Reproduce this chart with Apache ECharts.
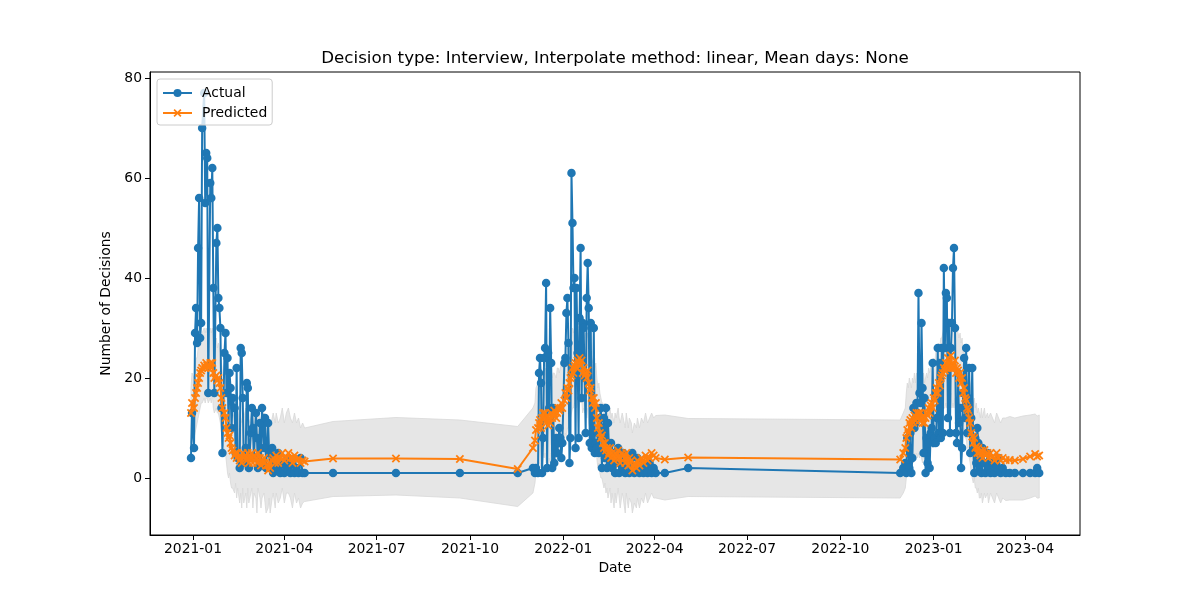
<!DOCTYPE html>
<html><head><meta charset="utf-8">
<script src="https://cdn.jsdelivr.net/npm/echarts@6/dist/echarts.min.js"></script>
<style>html,body{margin:0;padding:0;background:#fff}#c{width:1200px;height:600px}</style>
</head><body><div id="c"></div>
<script>
const dates = [
'2020-12-30','2020-12-31','2021-01-02','2021-01-03','2021-01-04','2021-01-05','2021-01-06','2021-01-07','2021-01-08','2021-01-09','2021-01-10','2021-01-12','2021-01-13','2021-01-14','2021-01-15','2021-01-16','2021-01-18','2021-01-19','2021-01-20','2021-01-21','2021-01-22','2021-01-24','2021-01-25','2021-01-26','2021-01-27','2021-01-28','2021-01-29','2021-01-30',
'2021-02-01','2021-02-02','2021-02-03','2021-02-04','2021-02-05','2021-02-06','2021-02-07','2021-02-08','2021-02-09','2021-02-11','2021-02-12','2021-02-13','2021-02-14','2021-02-16','2021-02-17','2021-02-18','2021-02-19','2021-02-20','2021-02-22','2021-02-23','2021-02-24','2021-02-25','2021-02-27','2021-02-28',
'2021-03-01','2021-03-02','2021-03-04','2021-03-05','2021-03-06','2021-03-08','2021-03-09','2021-03-10','2021-03-12','2021-03-13','2021-03-14','2021-03-16','2021-03-17','2021-03-18','2021-03-20','2021-03-21','2021-03-23','2021-03-24','2021-03-26','2021-03-28','2021-03-30',
'2021-04-01','2021-04-03','2021-04-05','2021-04-07','2021-04-09','2021-04-11','2021-04-13','2021-04-15','2021-04-17','2021-04-19','2021-04-21',
'2021-05-19','2021-07-20','2021-09-21','2021-11-17',
'2021-12-02','2021-12-04','2021-12-05','2021-12-07','2021-12-08','2021-12-09','2021-12-10','2021-12-11','2021-12-12','2021-12-13','2021-12-14','2021-12-15','2021-12-16','2021-12-17','2021-12-18','2021-12-19','2021-12-20','2021-12-21','2021-12-22','2021-12-23','2021-12-25','2021-12-26','2021-12-27','2021-12-28','2021-12-29','2021-12-30','2021-12-31',
'2022-01-02','2022-01-03','2022-01-04','2022-01-05','2022-01-06','2022-01-07','2022-01-08','2022-01-09','2022-01-10','2022-01-11','2022-01-12','2022-01-13','2022-01-14','2022-01-15','2022-01-16','2022-01-17','2022-01-18','2022-01-19','2022-01-20','2022-01-21','2022-01-22','2022-01-23','2022-01-24','2022-01-25','2022-01-26','2022-01-27','2022-01-28','2022-01-29','2022-01-30','2022-01-31',
'2022-02-01','2022-02-02','2022-02-03','2022-02-04','2022-02-05','2022-02-06','2022-02-07','2022-02-08','2022-02-09','2022-02-10','2022-02-11','2022-02-12','2022-02-13','2022-02-14','2022-02-15','2022-02-16','2022-02-17','2022-02-18','2022-02-20','2022-02-21','2022-02-22','2022-02-24','2022-02-25','2022-02-26','2022-02-28',
'2022-03-01','2022-03-03','2022-03-04','2022-03-06','2022-03-07','2022-03-09','2022-03-10','2022-03-12','2022-03-14','2022-03-15','2022-03-17','2022-03-19','2022-03-21','2022-03-23','2022-03-25','2022-03-27','2022-03-29','2022-03-31',
'2022-04-02','2022-04-11','2022-05-04',
'2022-11-29','2022-12-02','2022-12-04','2022-12-05','2022-12-06','2022-12-07','2022-12-08','2022-12-09','2022-12-10','2022-12-11','2022-12-12','2022-12-13','2022-12-14','2022-12-15','2022-12-16','2022-12-17','2022-12-18','2022-12-19','2022-12-20','2022-12-21','2022-12-22','2022-12-23','2022-12-24','2022-12-25','2022-12-26','2022-12-27','2022-12-28','2022-12-29','2022-12-30','2022-12-31',
'2023-01-01','2023-01-02','2023-01-03','2023-01-04','2023-01-05','2023-01-06','2023-01-07','2023-01-08','2023-01-09','2023-01-10','2023-01-11','2023-01-12','2023-01-13','2023-01-14','2023-01-15','2023-01-16','2023-01-17','2023-01-18','2023-01-19','2023-01-20','2023-01-21','2023-01-22','2023-01-23','2023-01-24','2023-01-25','2023-01-26','2023-01-27','2023-01-28','2023-01-29','2023-01-30','2023-01-31',
'2023-02-01','2023-02-02','2023-02-03','2023-02-04','2023-02-05','2023-02-06','2023-02-07','2023-02-08','2023-02-09','2023-02-10','2023-02-11','2023-02-12','2023-02-13','2023-02-14','2023-02-15','2023-02-16','2023-02-17','2023-02-18','2023-02-20','2023-02-21','2023-02-23','2023-02-24','2023-02-26','2023-02-28',
'2023-03-02','2023-03-04','2023-03-06','2023-03-08','2023-03-10','2023-03-13','2023-03-17','2023-03-22','2023-03-30',
'2023-04-06','2023-04-11','2023-04-13','2023-04-15'
];
const actual = [
4,13,6,29,34,27,46,56,28,31,70,77,55,65,64,17,59,56,62,38,17,47,50,36,34,30,14,5,
25,29,17,24,10,21,18,10,16,14,5,22,4,2,26,25,16,3,6,19,18,2,9,14,
10,4,13,8,2,11,3,14,6,12,2,11,5,2,6,1,4,2,5,1,3,
1,2,4,1,3,1,2,1,4,1,1,
1,1,1,1,
2,1,2,1,21,24,19,1,8,24,26,39,2,25,14,34,23,2,14,3,8,5,7,10,8,4,7,
23,24,33,36,27,3,8,61,51,38,40,6,38,25,8,32,46,16,31,30,20,9,36,43,34,7,31,6,7,30,
5,7,6,9,5,12,14,2,10,12,4,14,2,11,6,3,7,2,5,1,3,6,1,4,2,
5,1,3,4,1,2,5,1,2,4,1,3,1,2,1,3,1,2,
1,1,2,
1,2,3,1,8,6,2,9,1,4,14,10,11,15,13,37,17,15,31,18,5,16,1,8,3,7,2,9,10,23,
7,8,7,12,26,9,23,8,26,9,42,26,37,36,12,31,9,26,31,42,46,30,9,7,21,11,14,2,6,17,24,
12,26,9,16,22,5,12,22,6,1,8,3,10,7,2,5,1,6,3,1,5,2,1,3,
1,2,4,1,2,1,1,1,1,
1,1,2,1
];
const predicted = [
13,15,14,16,17,18,19,20,21,21.5,22,22.5,22,23,22.5,22,23,22,23,21,20,20.5,19.5,20,19,18,16,14,
13,12,10,9,8,8.5,7,6,5.5,4.5,5,4,5,3.5,4,3,5,4,4.5,3.5,5,3,4,5,
3,4.5,4,3,5,4,2.5,3.5,4,3,2.5,1.5,3,2,3.5,4,3,4.5,3,4,5,
3.5,4,5,4,3,4.5,3.5,4,3,3.5,3.3,
3.9,3.9,3.8,1.8,
6,7.5,9.6,10,11,11.6,10,12,13,12,13,11,12.5,10.5,12,11,13,12,12.5,13.5,12,13,14,13.5,14,15,14,
15.5,17,16,18,17.5,19,20,20.5,22,21,22.5,23,22,23.5,23,24,22.5,23.5,21,22,20.5,21,20,21.5,19,17.5,18,16,15,16,
14,15,12,10,11,9,8,8.5,7,6,7,5.5,6,4.5,5,6,4,5,3.5,5,4,5.5,4,3,5,
4.5,3,5,2.5,4,3.5,1.5,3,2,3.5,2.5,4,3,4.5,3.5,4,5,4.5,
4,3.7,4.1,
3.7,5,6,8,9.6,9,11,11.6,10,12,11,12.5,11.5,13,12,13,11.5,13,12,11,12.5,11,12,13,12.5,14,13,14.5,15,14,
16,15.5,17,18,17,19,18.5,20,20.5,21,22,21.5,23,22,24,23,22,24.5,22,23,22,23.5,21,22,21.5,20,21,19,20,17,18,
16,15.6,14,13.6,12,11,9,8.3,7,8,6,6.3,5,6,5,4.5,5.5,4,5.6,4.5,5,4,5,4.3,
3.5,5,4,3.5,4,3.6,3.6,3.5,3.8,
4.3,4.8,4.3,4.5
];
const lower = [
7,8,8,9,10,11,12,13,14,15,15,16,15,16,16,15,16,15,17,14,13,14,13,13,12,11,9,7,
6,5,3,1,0,1,-1,-2,-2,-3,-1,-4,-2,-5,-3,-6,-2,-5,-3,-6,-2,-5,-3,-2,
-6,-3,-4,-7,-2,-4,-6,-4,-3,-5,-7,-6,-4,-7,-4,-3,-6,-3,-5,-4,-2,
-5,-3,-3,-4,-6,-3,-5,-4,-6,-5,-4.7,
-3.7,-3.4,-4,-5.7,
-3,-1,1,2,3,3,2,4,5,4,5,3,4,2,4,3,5,4,5,6,4,5,6,6,7,7,6,
8,9,8,10,10,11,12,13,14,14,15,15,14,16,15,16,15,16,13,14,13,13,12,14,11,10,10,8,7,8,
6,7,4,2,3,1,0,0,-1,-2,-1,-3,-2,-4,-3,-2,-5,-3,-6,-3,-5,-2,-4,-6,-3,
-4,-7,-3,-6,-4,-5,-7,-5,-6,-4,-6,-4,-5,-3,-5,-4,-3,-4,
-4,-4.4,-3.7,
-4,-3,-2,0,1,1,3,3,2,4,3,5,4,5,4,5,4,5,4,3,5,3,4,5,5,6,5,7,7,6,
8,8,9,10,9,11,11,12,13,13,14,14,15,14,16,15,14,17,14,15,14,16,13,14,14,12,13,11,12,9,10,
8,8,6,6,4,3,1,0,-1,0,-2,-2,-3,-2,-4,-4,-3,-5,-3,-4,-3,-5,-3,-4,
-5,-3,-4,-5,-4,-4.5,-4.4,-4.4,-4.4,
-4,-3.6,-4,-4
];
const upper = [
18,21,20,22,24,24,26,27,28,28,29,30,29,30,29,29,30,29,30,28,27,28,26,27,26,25,23,21,
20,19,17,16,15,16,15,14,13,12,13,12,14,11,12,11,13,12,14,11,13,11,12,14,
10,13,12,11,14,12,10,12,13,11,10,9,11,10,12,13,11,13,11,12,14,
11,13,14,12,11,13,11,12,10,11,10,
11.3,12.1,11.6,10.3,
14,15,18,19,20,21,18,20,21,19,22,19,20,18,21,19,22,20,21,21,20,22,22,21,22,23,22,
24,25,24,26,25,27,28,28,30,29,30,31,30,31,30,31,30,31,29,30,28,29,28,29,27,25,26,24,23,24,
22,23,20,18,19,17,16,15,15,14,15,13,14,12,13,14,12,13,11,13,12,14,12,11,13,
12,10,13,10,12,11,9,11,10,12,10,12,11,13,11,12,13,12,
12.5,12.6,11.9,
11.6,13,14,17,19,18,20,19,18,20,19,21,19,21,20,22,19,21,20,19,21,19,20,21,20,22,21,22,23,22,
24,23,25,26,25,27,26,28,28,29,30,29,31,30,32,31,30,32,30,31,30,31,29,30,29,28,29,27,28,25,26,
24,23,22,21,20,19,17,16,15,16,14,15,13,14,13,12,14,12,14,12,13,12,13,12,
11,13,12,11,12,12,12.3,12,12.4,
12.6,12.8,12.4,12.6
];
const xTicks = ['2021-01-01','2021-04-01','2021-07-01','2021-10-01','2022-01-01','2022-04-01','2022-07-01','2022-10-01','2023-01-01','2023-04-01'];
const yTicks = [0,20,40,60,80];

const DAY = 86400000;
const toTs = s => { const p = s.split('-').map(Number); return Date.UTC(p[0], p[1]-1, p[2]); };
const origin = toTs('2021-01-01');
const xMin = origin - 42.4*DAY, xMax = origin + 874.2*DAY;
const FONT = 'DejaVu Sans';
const xPath = 'path://M0,1.5 L1.5,0 L5,3.5 L8.5,0 L10,1.5 L6.5,5 L10,8.5 L8.5,10 L5,6.5 L1.5,10 L0,8.5 L3.5,5 Z';

const ts = dates.map(toTs);
const bandData = ts.map((t,i)=>[t, lower[i], upper[i]]);

function renderBand(params, api) {
  if (params.dataIndex !== 0) return null;
  const pts = [];
  for (let i = 0; i < bandData.length; i++) pts.push(api.coord([bandData[i][0], bandData[i][2]]));
  for (let i = bandData.length - 1; i >= 0; i--) pts.push(api.coord([bandData[i][0], bandData[i][1]]));
  return {type:'polygon', shape:{points:pts}, silent:true,
    style:{fill:'#e6e6e6', stroke:'#d8d8d8', lineWidth:0.8}};
}

const chart = echarts.init(document.getElementById('c'), null, {renderer:'canvas'});
chart.setOption({
  animation:false,
  backgroundColor:'#fff',
  title:{text:'Decision type: Interview, Interpolate method: linear, Mean days: None', left:615, top:50, textAlign:'center', padding:0,
    textStyle:{fontFamily:FONT, fontSize:16.7, fontWeight:'normal', color:'#000'}},
  legend:{data:['Actual','Predicted'], orient:'vertical', left:157, top:79, itemWidth:29, itemHeight:10, itemGap:6,
    padding:[7,5,5,5], backgroundColor:'rgba(255,255,255,0.8)', borderColor:'#cccccc', borderWidth:1, borderRadius:3,
    textStyle:{fontFamily:FONT, fontSize:13.9, color:'#000', padding:[0,0,0,5]}},
  grid:{left:150, right:120, top:72, bottom:65, show:true, borderColor:'#000', borderWidth:1, backgroundColor:'transparent'},
  xAxis:{type:'value', min:xMin, max:xMax, name:'Date', nameLocation:'middle', nameGap:26,
    nameTextStyle:{fontFamily:FONT, fontSize:13.9, color:'#000'},
    axisLine:{show:true, onZero:false, lineStyle:{color:'#000', width:1}},
    axisTick:{show:true, length:5, lineStyle:{color:'#000'}, customValues: xTicks.map(toTs)},
    axisLabel:{fontFamily:FONT, fontSize:13.9, color:'#000', margin:7, customValues: xTicks.map(toTs), hideOverlap:false,
      formatter: v => { const d = new Date(v); return d.getUTCFullYear() + '-' + String(d.getUTCMonth()+1).padStart(2,'0'); }},
    splitLine:{show:false}},
  yAxis:{type:'value', min:-11.4, max:81.2, name:'Number of Decisions', nameLocation:'middle', nameGap:34,
    nameTextStyle:{fontFamily:FONT, fontSize:13.9, color:'#000'},
    axisLine:{show:true, onZero:false, lineStyle:{color:'#000', width:1}},
    axisTick:{show:true, length:5, lineStyle:{color:'#000'}, customValues: yTicks},
    axisLabel:{fontFamily:FONT, fontSize:13.9, color:'#000', margin:8, customValues: yTicks},
    splitLine:{show:false}},
  series:[
    {name:'band', type:'custom', renderItem:renderBand, data:bandData, encode:{x:0, y:[1,2]}, z:1, silent:true, clip:true},
    {name:'Actual', type:'line', symbol:'circle', symbolSize:8.5, showAllSymbol:true, z:3,
      data: ts.map((t,i)=>[t, actual[i]]), lineStyle:{width:2, color:'#1f77b4'}, itemStyle:{color:'#1f77b4'}},
    {name:'Predicted', type:'line', symbol:xPath, symbolSize:8.5, showAllSymbol:true, z:4,
      data: ts.map((t,i)=>[t, predicted[i]]), lineStyle:{width:2, color:'#ff7f0e'}, itemStyle:{color:'#ff7f0e'}}
  ]
});
</script></body></html>
